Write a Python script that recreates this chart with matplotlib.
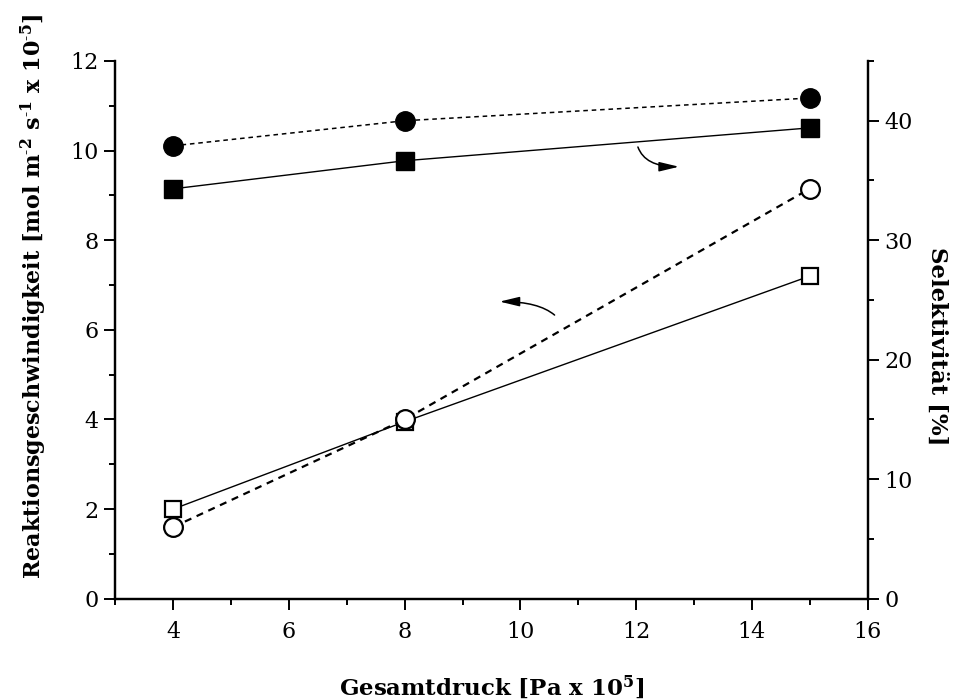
import matplotlib
matplotlib.use("Agg")
import matplotlib.pyplot as plt
from matplotlib.ticker import MultipleLocator

plt.rcParams["font.family"] = ["DejaVu Serif"]
plt.rcParams["mathtext.fontset"] = "dejavuserif"

# Gesamtdruck [Pa x 10^5]
pressure = [4, 8, 15]

# Reaktionsgeschwindigkeit (linke Achse)
rate_squares = [2.0, 3.95, 7.2]
rate_circles = [1.6, 4.0, 9.15]

# Selektivität [%] (rechte Achse)
sel_squares = [34.3, 36.65, 39.4]
sel_circles = [37.9, 40.0, 41.9]

x_ticks = [4, 6, 8, 10, 12, 14, 16]
left_ticks = [0, 2, 4, 6, 8, 10, 12]
right_ticks = [0, 10, 20, 30, 40]

fig = plt.figure(figsize=(9.58, 7.0), dpi=100)
ax = fig.add_axes([0.1204, 0.1447, 0.7853, 0.7682])
ax2 = ax.twinx()

# rate curves
ax.plot(pressure, rate_squares, color="black", lw=1.0, ls="-",
        marker="s", ms=12, mfc="white", mec="black", mew=1.6, zorder=3)
ax.plot(pressure, rate_circles, color="black", lw=1.6, ls=(0, (3.2, 2.6)),
        marker="o", ms=13.5, mfc="white", mec="black", mew=1.6, zorder=4)

# selectivity curves
ax2.plot(pressure, sel_squares, color="black", lw=1.0, ls="-",
         marker="s", ms=12.5, mfc="black", mec="black", zorder=3)
ax2.plot(pressure, sel_circles, color="black", lw=1.1, ls=(0, (3, 2.5)),
         marker="o", ms=14, mfc="black", mec="black", zorder=3)

ax.set_xlim(3, 16)
ax.set_ylim(0, 12)
ax2.set_ylim(0, 45)

ax.set_xticks(x_ticks)
ax.set_yticks(left_ticks)
ax2.set_yticks(right_ticks)
ax.xaxis.set_minor_locator(MultipleLocator(1))
ax.yaxis.set_minor_locator(MultipleLocator(1))
ax2.yaxis.set_minor_locator(MultipleLocator(5))

for a in (ax, ax2):
    a.spines["top"].set_visible(False)
    for s in a.spines.values():
        s.set_linewidth(1.6)
    a.tick_params(which="major", direction="out", length=8, width=1.4,
                  labelsize=16, pad=4)
    a.tick_params(which="minor", direction="out", length=4.5, width=1.4)
ax.tick_params(axis="x", pad=8)

ax.set_xlabel(r"Gesamtdruck [Pa x 10$^{\mathbf{5}}$]", fontsize=16.5,
              fontweight="bold", va="center")
ax.xaxis.set_label_coords(0.5007, -0.165)
ax.set_ylabel(r"Reaktionsgeschwindigkeit [mol m$^{\mathbf{\text{-}2}}$ s$^{\mathbf{\text{-}1}}$ x 10$^{\mathbf{\text{-}5}}$]",
              fontsize=16, fontweight="bold", va="center")
ax.yaxis.set_label_coords(-0.108, 0.563)
ax2.set_ylabel("Selektivität [%]", fontsize=16.5, fontweight="bold",
               rotation=270, va="center")
ax2.yaxis.set_label_coords(1.092, 0.47)

# curved arrows pointing to the matching axes
arrow_style = "-|>,head_length=1.0,head_width=0.24"
ax.annotate("", xy=(12.74, 9.64), xytext=(12.03, 10.08),
            arrowprops=dict(arrowstyle=arrow_style,
                            connectionstyle="angle3,angleA=-70,angleB=0",
                            color="black", lw=1.1, shrinkA=0, shrinkB=0,
                            mutation_scale=12))
ax.annotate("", xy=(9.64, 6.63), xytext=(10.59, 6.33),
            arrowprops=dict(arrowstyle=arrow_style,
                            connectionstyle="angle3,angleA=140,angleB=0",
                            color="black", lw=1.1, shrinkA=0, shrinkB=0,
                            mutation_scale=12))

fig.savefig("out.png", dpi=100)
